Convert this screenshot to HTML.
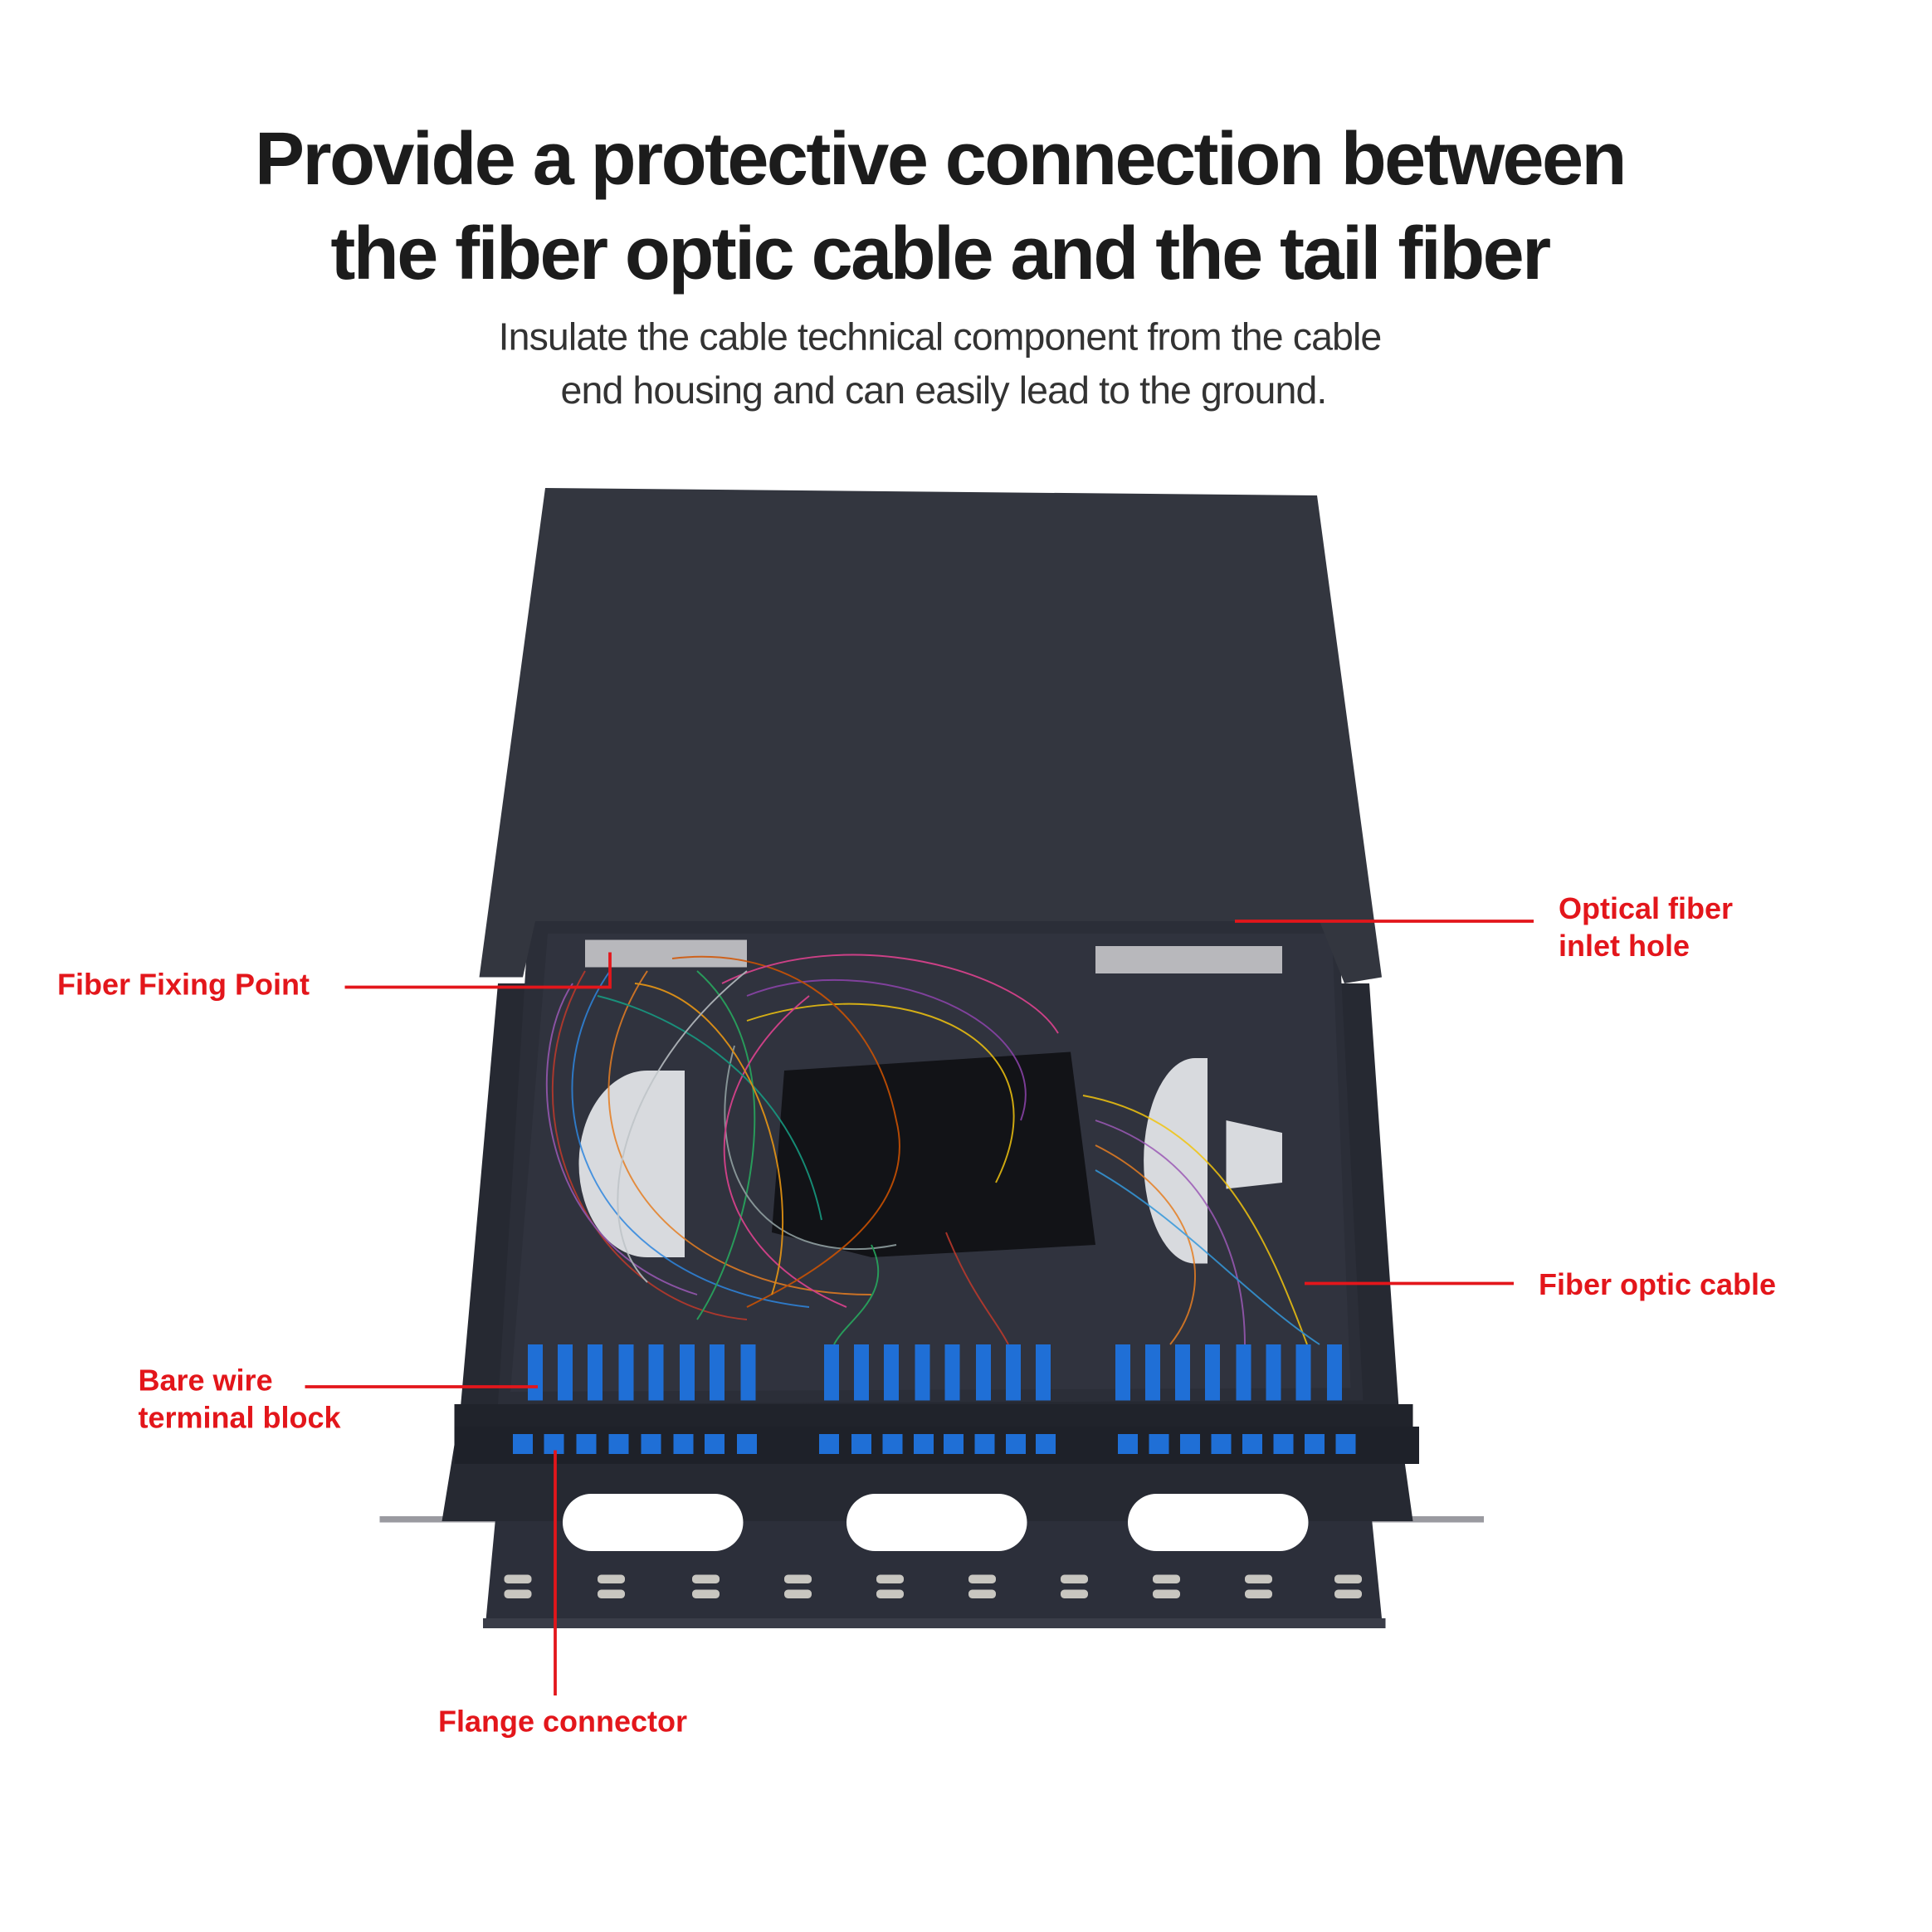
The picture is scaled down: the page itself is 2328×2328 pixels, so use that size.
<!DOCTYPE html>
<html><head><style>
html,body{margin:0;padding:0;background:#fff;}
svg{display:block;}
</style></head><body>
<svg width="2328" height="2328" viewBox="0 0 1552 1552" xmlns="http://www.w3.org/2000/svg">
<rect width="1552" height="1552" fill="#fff"/>
<g font-family="Liberation Sans, sans-serif" text-anchor="middle" fill="#1c1c1c">
<text x="755" y="148" font-size="60" font-weight="bold" letter-spacing="-1.7">Provide a protective connection between</text>
<text x="755" y="224" font-size="60" font-weight="bold" letter-spacing="-1.7">the fiber optic cable and the tail fiber</text>
<text x="755" y="281" font-size="31" fill="#333" letter-spacing="-0.6">Insulate the cable technical component from the cable</text>
<text x="758" y="324" font-size="31" fill="#333" letter-spacing="-0.6">end housing and can easily lead to the ground.</text>
</g>
<rect x="305" y="1218" width="887" height="5" fill="#9a9aa0"/>
<polygon points="398,1220 1102,1220 1110,1300 390,1305" fill="#2c2f3a"/>
<rect x="388" y="1300" width="725" height="8" fill="#3a3d48"/>
<polygon points="400,790 1100,790 1125,1150 1135,1222 355,1222 370,1130" fill="#262932"/>
<polygon points="425,735 1075,738 1095,1125 400,1128" fill="#2b2e38"/>
<polygon points="440,750 1070,750 1085,1115 410,1118" fill="#30333e"/>
<polygon points="438,392 1058,398 1110,785 1080,790 1060,740 430,740 420,785 385,785" fill="#33363f"/>
<rect x="365" y="1128" width="770" height="20" fill="#20232b"/>
<rect x="365" y="1146" width="775" height="30" fill="#1e2129"/>
<rect x="452" y="1200" width="145" height="46" rx="23" fill="#fff"/>
<rect x="680" y="1200" width="145" height="46" rx="23" fill="#fff"/>
<rect x="906" y="1200" width="145" height="46" rx="23" fill="#fff"/>
<g fill="#c8c6c0">
<rect x="405" y="1265" width="22" height="7" rx="3"/><rect x="405" y="1277" width="22" height="7" rx="3"/>
<rect x="480" y="1265" width="22" height="7" rx="3"/><rect x="480" y="1277" width="22" height="7" rx="3"/>
<rect x="556" y="1265" width="22" height="7" rx="3"/><rect x="556" y="1277" width="22" height="7" rx="3"/>
<rect x="630" y="1265" width="22" height="7" rx="3"/><rect x="630" y="1277" width="22" height="7" rx="3"/>
<rect x="704" y="1265" width="22" height="7" rx="3"/><rect x="704" y="1277" width="22" height="7" rx="3"/>
<rect x="778" y="1265" width="22" height="7" rx="3"/><rect x="778" y="1277" width="22" height="7" rx="3"/>
<rect x="852" y="1265" width="22" height="7" rx="3"/><rect x="852" y="1277" width="22" height="7" rx="3"/>
<rect x="926" y="1265" width="22" height="7" rx="3"/><rect x="926" y="1277" width="22" height="7" rx="3"/>
<rect x="1000" y="1265" width="22" height="7" rx="3"/><rect x="1000" y="1277" width="22" height="7" rx="3"/>
<rect x="1072" y="1265" width="22" height="7" rx="3"/><rect x="1072" y="1277" width="22" height="7" rx="3"/>
</g>
<polygon points="630,860 860,845 880,1000 700,1010 620,990" fill="#121317"/>
<path d="M520,860 a55,75 0 0 0 0,150 l30,0 l0,-150z" fill="#d8dade"/>
<path d="M960,850 a40,80 0 0 0 0,165 l10,0 l0,-165z" fill="#d8dade"/>
<path d="M985,900 l45,10 l0,40 l-45,5z" fill="#d8dade"/>
<rect x="470" y="755" width="130" height="22" fill="#b8b8bc"/>
<rect x="880" y="760" width="150" height="22" fill="#b8b8bc"/>
<g fill="none" stroke-width="1.3" opacity="0.85">
<path d="M470,780 C400,900 480,1050 600,1060" stroke="#c0392b"/>
<path d="M490,780 C420,880 470,1030 650,1050" stroke="#2e86de"/>
<path d="M520,780 C440,900 520,1040 700,1040" stroke="#e67e22"/>
<path d="M560,780 C640,850 600,1000 560,1060" stroke="#27ae60"/>
<path d="M600,800 C700,760 850,820 820,900" stroke="#8e44ad"/>
<path d="M600,820 C720,780 860,830 800,950" stroke="#f1c40f"/>
<path d="M590,840 C560,950 620,1020 720,1000" stroke="#95a5a6"/>
<path d="M650,800 C550,880 560,1000 680,1050" stroke="#e84393"/>
<path d="M460,790 C420,850 430,1000 560,1040" stroke="#9b59b6"/>
<path d="M540,770 C620,760 700,800 720,900 C740,980 640,1030 600,1050" stroke="#d35400"/>
<path d="M580,790 C680,740 820,780 850,830" stroke="#e84393"/>
<path d="M480,800 C560,820 640,880 660,980" stroke="#16a085"/>
<path d="M510,790 C600,800 650,950 620,1040" stroke="#f39c12"/>
<path d="M600,780 C500,860 470,980 520,1030" stroke="#bdc3c7"/>
<path d="M870,880 C980,900 1020,1000 1050,1080" stroke="#f1c40f"/>
<path d="M880,900 C970,930 1000,1010 1000,1080" stroke="#9b59b6"/>
<path d="M880,920 C960,960 980,1030 940,1080" stroke="#e67e22"/>
<path d="M880,940 C950,980 1000,1040 1060,1080" stroke="#3498db"/>
<path d="M700,1000 C720,1040 680,1060 670,1080" stroke="#27ae60"/>
<path d="M760,990 C780,1040 800,1060 810,1080" stroke="#c0392b"/>
</g>
<g fill="#1f6fd6">
<rect x="424" y="1080" width="12" height="45"/><rect x="448" y="1080" width="12" height="45"/><rect x="472" y="1080" width="12" height="45"/><rect x="497" y="1080" width="12" height="45"/><rect x="521" y="1080" width="12" height="45"/><rect x="546" y="1080" width="12" height="45"/><rect x="570" y="1080" width="12" height="45"/><rect x="595" y="1080" width="12" height="45"/>
<rect x="662" y="1080" width="12" height="45"/><rect x="686" y="1080" width="12" height="45"/><rect x="710" y="1080" width="12" height="45"/><rect x="735" y="1080" width="12" height="45"/><rect x="759" y="1080" width="12" height="45"/><rect x="784" y="1080" width="12" height="45"/><rect x="808" y="1080" width="12" height="45"/><rect x="832" y="1080" width="12" height="45"/>
<rect x="896" y="1080" width="12" height="45"/><rect x="920" y="1080" width="12" height="45"/><rect x="944" y="1080" width="12" height="45"/><rect x="968" y="1080" width="12" height="45"/><rect x="993" y="1080" width="12" height="45"/><rect x="1017" y="1080" width="12" height="45"/><rect x="1041" y="1080" width="12" height="45"/><rect x="1066" y="1080" width="12" height="45"/>
<rect x="412" y="1152" width="16" height="16"/><rect x="437" y="1152" width="16" height="16"/><rect x="463" y="1152" width="16" height="16"/><rect x="489" y="1152" width="16" height="16"/><rect x="515" y="1152" width="16" height="16"/><rect x="541" y="1152" width="16" height="16"/><rect x="566" y="1152" width="16" height="16"/><rect x="592" y="1152" width="16" height="16"/>
<rect x="658" y="1152" width="16" height="16"/><rect x="684" y="1152" width="16" height="16"/><rect x="709" y="1152" width="16" height="16"/><rect x="734" y="1152" width="16" height="16"/><rect x="758" y="1152" width="16" height="16"/><rect x="783" y="1152" width="16" height="16"/><rect x="808" y="1152" width="16" height="16"/><rect x="832" y="1152" width="16" height="16"/>
<rect x="898" y="1152" width="16" height="16"/><rect x="923" y="1152" width="16" height="16"/><rect x="948" y="1152" width="16" height="16"/><rect x="973" y="1152" width="16" height="16"/><rect x="998" y="1152" width="16" height="16"/><rect x="1023" y="1152" width="16" height="16"/><rect x="1048" y="1152" width="16" height="16"/><rect x="1073" y="1152" width="16" height="16"/>
</g>
<g stroke="#e3161b" stroke-width="2.5" fill="none">
<line x1="992" y1="740" x2="1232" y2="740"/>
<path d="M277,793 L490,793 L490,765"/>
<line x1="1048" y1="1031" x2="1216" y2="1031"/>
<line x1="245" y1="1114" x2="432" y2="1114"/>
<line x1="446" y1="1165" x2="446" y2="1362"/>
</g>
<g font-family="Liberation Sans, sans-serif" font-weight="bold" font-size="24" fill="#e3161b">
<text x="1252" y="738">Optical fiber</text>
<text x="1252" y="768">inlet hole</text>
<text x="46" y="799">Fiber Fixing Point</text>
<text x="1236" y="1040">Fiber optic cable</text>
<text x="111" y="1117">Bare wire</text>
<text x="111" y="1147">terminal block</text>
<text x="352" y="1391">Flange connector</text>
</g>
</svg>
</body></html>
